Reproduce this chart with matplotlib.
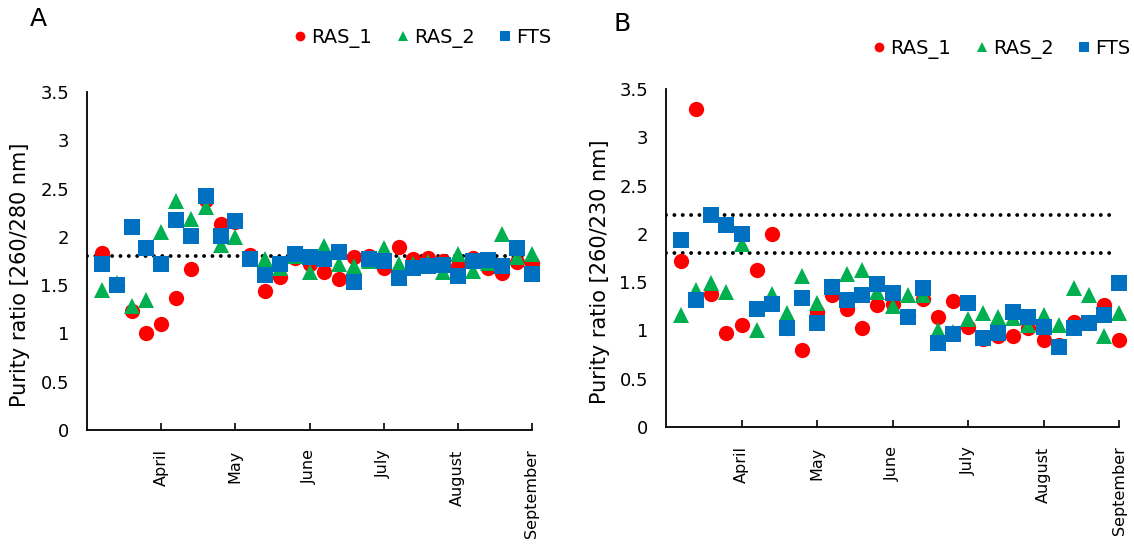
import matplotlib.pyplot as plt
import numpy as np
from matplotlib.lines import Line2D

# sampling points (5 per month), month labels at every 5th point
sample = np.arange(1, 31)
month_pos = [5, 10, 15, 20, 25, 30]
months = ["April", "May", "June", "July", "August", "September"]

# Panel A: 260/280 nm
a_ras1 = [1.83, 1.50, 1.23, 1.00, 1.10, 1.37, 1.67, 2.38, 2.13, 2.15,
          1.81, 1.44, 1.58, 1.78, 1.72, 1.64, 1.56, 1.79, 1.80, 1.68,
          1.90, 1.77, 1.78, 1.75, 1.70, 1.78, 1.68, 1.63, 1.74, 1.73]
a_ras2 = [1.45, 1.52, 1.28, 1.35, 2.05, 2.37, 2.18, 2.31, 1.92, 2.00,
          1.77, 1.77, 1.68, 1.80, 1.64, 1.91, 1.72, 1.70, 1.75, 1.88,
          1.72, 1.72, 1.74, 1.64, 1.82, 1.65, 1.73, 2.03, 1.79, 1.82]
a_fts = [1.72, 1.50, 2.10, 1.88, 1.72, 2.17, 2.01, 2.42, 2.01, 2.16,
         1.77, 1.60, 1.72, 1.82, 1.79, 1.77, 1.84, 1.53, 1.77, 1.75,
         1.57, 1.68, 1.70, 1.71, 1.59, 1.75, 1.76, 1.70, 1.88, 1.62]

# Panel B: 260/230 nm
b_ras1 = [1.72, 3.29, 1.38, 0.97, 1.06, 1.63, 2.00, 1.03, 0.80, 1.19,
          1.37, 1.22, 1.03, 1.26, 1.27, 1.15, 1.33, 1.14, 1.30, 1.04,
          0.91, 0.94, 0.94, 1.02, 0.90, 0.85, 1.09, 1.08, 1.26, 0.90]
b_ras2 = [1.16, 1.42, 1.49, 1.40, 1.89, 1.00, 1.38, 1.18, 1.56, 1.28,
          1.46, 1.58, 1.63, 1.40, 1.25, 1.37, 1.37, 1.00, 0.98, 1.12,
          1.18, 1.14, 1.13, 1.06, 1.16, 1.06, 1.44, 1.37, 0.94, 1.18]
b_fts = [1.94, 1.32, 2.20, 2.09, 2.00, 1.22, 1.27, 1.02, 1.34, 1.08,
         1.45, 1.32, 1.37, 1.48, 1.39, 1.14, 1.44, 0.87, 0.96, 1.28,
         0.92, 0.97, 1.19, 1.14, 1.04, 0.83, 1.03, 1.08, 1.16, 1.49]

series_names = ["RAS_1", "RAS_2", "FTS"]
colors = ["#FF0000", "#00B050", "#0070C0"]
markers = ["o", "^", "s"]

plt.rcParams['font.family'] = ['DejaVu Sans']

fig = plt.figure(figsize=(11.34, 5.49), dpi=100)
ax_a = fig.add_axes([87 / 1134, 119 / 549, 445 / 1134, 338 / 549])
ax_b = fig.add_axes([666 / 1134, 122 / 549, 453 / 1134, 338 / 549])


def draw_panel(ax, data, hlines, ylabel, label_x):
    for hl in hlines:
        ax.plot([0, 29.7], [hl, hl], color="black", lw=2.8,
                linestyle=(0, (0.01, 2.14)), dash_capstyle="round", zorder=1)
    for vals, c, m in zip(data, colors, markers):
        ax.plot(sample, vals, linestyle="none", marker=m, ms=11, color=c,
                markeredgewidth=0, zorder=3, clip_on=False)
    ax.set_xlim(0, 30)
    ax.set_ylim(0, 3.5)
    ax.set_yticks(np.arange(0, 3.51, 0.5))
    ax.set_yticklabels(["0", "0.5", "1", "1.5", "2", "2.5", "3", "3.5"])
    ax.set_xticks(month_pos)
    ax.set_xticklabels(months, rotation=90, va="top", ha="center", fontsize=11.5)
    ax.tick_params(axis="x", direction="in", length=5, width=1.2, pad=14)
    ax.tick_params(axis="y", length=0, pad=13, labelsize=13)
    for side in ["top", "right"]:
        ax.spines[side].set_visible(False)
    for side in ["left", "bottom"]:
        ax.spines[side].set_linewidth(1.3)
    ax.set_ylabel(ylabel, fontsize=15)
    ax.yaxis.set_label_coords(label_x, 0.46)

    handles = [Line2D([], [], linestyle="none", marker=m, ms=7, color=c,
                      markeredgewidth=0) for c, m in zip(colors, markers)]
    return handles


h = draw_panel(ax_a, [a_ras1, a_ras2, a_fts], [1.8], "Purity ratio [260/280 nm]", -0.128)
draw_panel(ax_b, [b_ras1, b_ras2, b_fts], [1.8, 2.2], "Purity ratio [260/230 nm]", -0.124)

for ax, cx, cy in [(ax_a, 423 / 1134, 1 - 37.6 / 549), (ax_b, 1002 / 1134, 1 - 48.8 / 549)]:
    ax.legend(h, series_names, ncol=3, loc="center", bbox_to_anchor=(cx, cy),
              bbox_transform=fig.transFigure, frameon=False, fontsize=14,
              handlelength=0.6, handletextpad=0.25, columnspacing=1.3,
              borderpad=0, borderaxespad=0)

fig.text(30 / 1134, 1 - 19 / 549, "A", fontsize=18, va="center", ha="left")
fig.text(613 / 1134, 1 - 24 / 549, "B", fontsize=18, va="center", ha="left")

plt.savefig("out.png", dpi=100, facecolor="w")
